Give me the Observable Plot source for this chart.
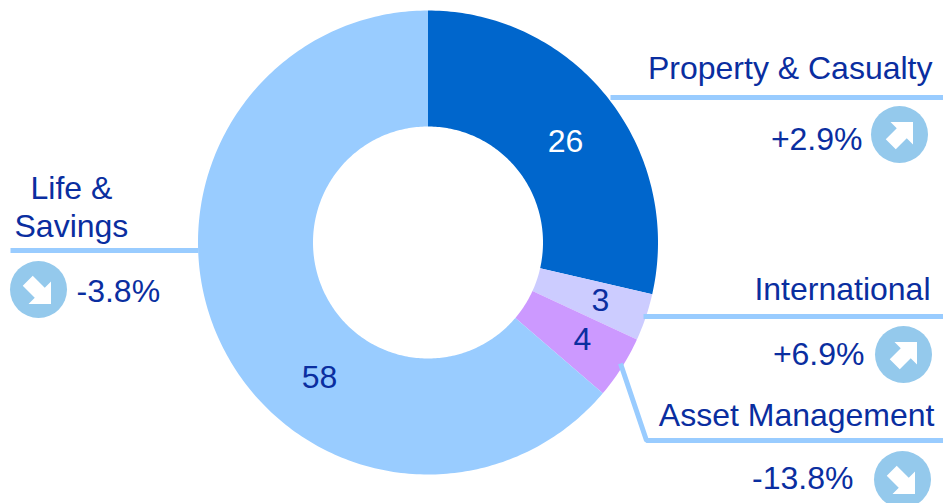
<!DOCTYPE html>
<html>
<head>
<meta charset="utf-8">
<style>html,body{margin:0;padding:0;background:#fff}svg{display:block}</style>
<script src="https://cdn.jsdelivr.net/npm/d3@7"></script>
<script src="https://cdn.jsdelivr.net/npm/@observablehq/plot@0.6"></script>
</head>
<body>
<div id="chart"></div>
<script>
// Data
const segments = ["Property & Casualty", "International", "Asset Management", "Life & Savings"];
const shares = [26, 3, 4, 58];
const changes = ["+2.9%", "+6.9%", "-13.8%", "-3.8%"];
const colors = ["#0066cc", "#ccccff", "#cc99ff", "#99ccff"];
const shareColors = ["#ffffff", "#0a2ea0", "#0a2ea0", "#0a2ea0"];

// Layout (chart pixels: the x and y scales are identity-like)
const W = 943, H = 503;
const centre = [427.5, 242], outerRx = 230, outerRy = 232, innerRx = 115, innerRy = 116;
const shareAt = [[565, 141], [600, 300], [582, 339], [319, 377]];
const nameLines = [
  {t: "Property & Casualty", x: 932, y: 68, a: "end"},
  {t: "International", x: 930, y: 289, a: "end"},
  {t: "Asset Management", x: 934, y: 415, a: "end"},
  {t: "Life &", x: 30, y: 188, a: "start"},
  {t: "Savings", x: 14, y: 226, a: "start"}
];
const changeAt = [
  {x: 862, y: 139, a: "end"},
  {x: 864, y: 354, a: "end"},
  {x: 853, y: 478, a: "end"},
  {x: 76, y: 291, a: "start"}
];
const badgeAt = [[899, 134], [903, 354], [902, 479], [38, 289]];
const leaders = [
  [[610, 97], [943, 97]],
  [[643, 316], [943, 316]],
  [[620, 363], [646, 440], [943, 440]],
  [[10, 250], [198, 250]]
];

// Slices: polygon rings built from the share values
const pie = d3.pie().sort(null)(shares);
const ring = [];
pie.forEach((p, i) => {
  const n = Math.max(8, Math.ceil((p.endAngle - p.startAngle) * 60));
  const pts = [];
  for (let k = 0; k <= n; k++) {
    const a = p.startAngle + (p.endAngle - p.startAngle) * k / n;
    pts.push([centre[0] + outerRx * Math.sin(a), centre[1] - outerRy * Math.cos(a)]);
  }
  for (let k = n; k >= 0; k--) {
    const a = p.startAngle + (p.endAngle - p.startAngle) * k / n;
    pts.push([centre[0] + innerRx * Math.sin(a), centre[1] - innerRy * Math.cos(a)]);
  }
  pts.push(pts[0]);
  pts.forEach(q => ring.push({x: q[0], y: q[1], s: segments[i]}));
});

const leaderRows = leaders.flatMap((l, i) => l.map(q => ({x: q[0], y: q[1], k: i})));
const badges = badgeAt.map((b, i) => ({x: b[0], y: b[1], up: changes[i][0] === "+"}));

// White block arrows
function arrowSymbol(pts) {
  return {draw(ctx) {
    pts.forEach((p, i) => i ? ctx.lineTo(p[0], p[1]) : ctx.moveTo(p[0], p[1]));
    ctx.closePath();
  }};
}
const upArrow = [[13.5, -12.5], [-9, -12.5], [-2.75, -6.25], [-13.75, 4.75], [-3.75, 14.75], [7.25, 3.75], [13.5, 10]];
const downArrow = [[12.5, 14.5], [-10, 14.5], [-3.75, 8.25], [-15.75, -3.75], [-5.75, -13.75], [6.25, -1.75], [12.5, -8]];

const font = "'Liberation Sans', Arial, sans-serif";
const ink = "#0a2ea0", size = 32;
const changeRows = changes.map((t, i) => ({t, ...changeAt[i]}));
const chart = Plot.plot({
  width: W, height: H,
  margin: 0,
  style: {background: "#fff", fontFamily: font},
  x: {domain: [0, W], axis: null},
  y: {domain: [0, H], range: [0, H], axis: null},
  marks: [
    Plot.line(ring, {x: "x", y: "y", z: "s", fill: d => colors[segments.indexOf(d.s)], stroke: null, curve: "linear"}),
    Plot.line(leaderRows, {x: "x", y: "y", z: "k", stroke: "#99ccff", strokeWidth: 5, strokeLinejoin: "miter", strokeLinecap: "butt", curve: "linear"}),
    Plot.dot(badges, {x: "x", y: "y", r: 28.5, fill: "#94c9ec", stroke: null}),
    Plot.dot(badges.filter(d => d.up), {x: "x", y: "y", r: 10, fill: "#fff", stroke: null, symbol: arrowSymbol(upArrow)}),
    Plot.dot(badges.filter(d => !d.up), {x: "x", y: "y", r: 10, fill: "#fff", stroke: null, symbol: arrowSymbol(downArrow)}),
    Plot.text(shares, {x: (d, i) => shareAt[i][0], y: (d, i) => shareAt[i][1], text: d => String(d), fill: (d, i) => shareColors[i], fontSize: size, textAnchor: "middle", lineAnchor: "middle"}),
    Plot.text(nameLines.filter(d => d.a === "end"), {x: "x", y: "y", text: "t", fill: ink, fontSize: size, textAnchor: "end", lineAnchor: "middle"}),
    Plot.text(nameLines.filter(d => d.a === "start"), {x: "x", y: "y", text: "t", fill: ink, fontSize: size, textAnchor: "start", lineAnchor: "middle"}),
    Plot.text(changeRows.filter(d => d.a === "end"), {x: "x", y: "y", text: "t", fill: ink, fontSize: size, textAnchor: "end", lineAnchor: "middle"}),
    Plot.text(changeRows.filter(d => d.a === "start"), {x: "x", y: "y", text: "t", fill: ink, fontSize: size, textAnchor: "start", lineAnchor: "middle"})
  ]
});
document.getElementById("chart").appendChild(chart);
</script>
</body>
</html>
